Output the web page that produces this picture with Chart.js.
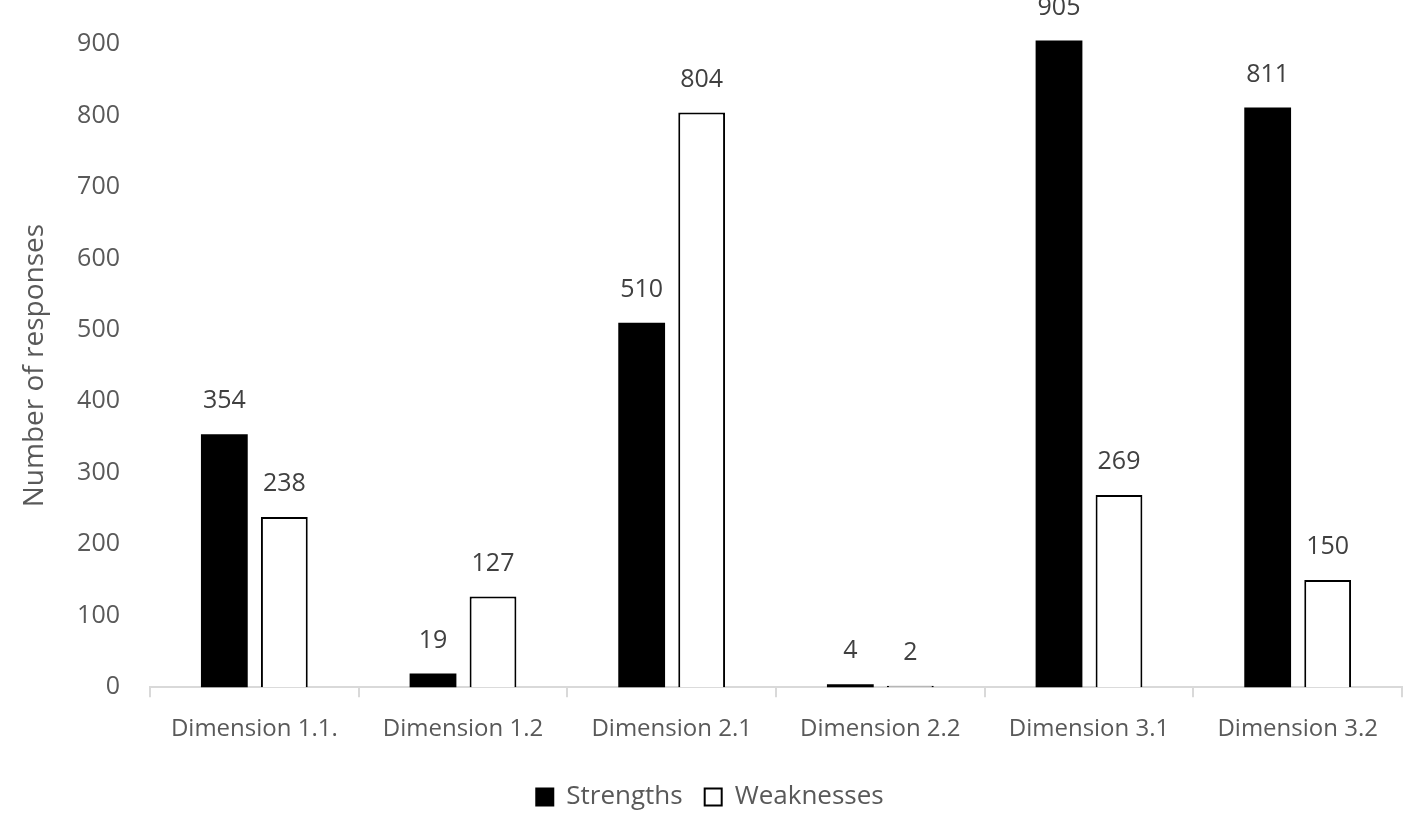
<!DOCTYPE html>
<html>
<head>
<meta charset="utf-8">
<script src="https://cdn.jsdelivr.net/npm/chart.js@4/dist/chart.umd.min.js"></script>
<style>
  html, body { margin: 0; padding: 0; background: #fff; }
  #wrap { width: 1417px; height: 828px; }
</style>
</head>
<body>
<div id="wrap"><canvas id="grafica"></canvas></div>
<script>
// Datos del grafico
const categorias = ["Dimension 1.1.", "Dimension 1.2", "Dimension 2.1", "Dimension 2.2", "Dimension 3.1", "Dimension 3.2"];
const fortalezas = [354, 19, 510, 4, 905, 811];
const debilidades = [238, 127, 804, 2, 269, 150];
const ticksY = [0, 100, 200, 300, 400, 500, 600, 700, 800, 900];

const fuente = "'Open Sans', 'Liberation Sans', sans-serif";
const gris = "#595959";

// Etiquetas de valor encima de cada barra
const etiquetas = {
    id: "etiquetas",
    afterDatasetsDraw(chart) {
        const ctx = chart.ctx;
        ctx.save();
        ctx.font = "25px " + fuente;
        ctx.fillStyle = "#404040";
        ctx.textAlign = "center";
        ctx.textBaseline = "middle";
        chart.data.datasets.forEach((ds, i) => {
            chart.getDatasetMeta(i).data.forEach((bar, j) => {
                ctx.fillText(ds.data[j], bar.x, bar.y - 33);
            });
        });
        ctx.restore();
    }
};

const ctx = document.getElementById("grafica").getContext("2d");
new Chart(ctx, {
    type: "bar",
    data: {
        labels: categorias,
        datasets: [{
            label: "Strengths",
            data: fortalezas,
            backgroundColor: "#000000",
            borderColor: "#000000",
            borderWidth: 0,
            clip: false
        }, {
            label: "Weaknesses",
            data: debilidades,
            backgroundColor: "#ffffff",
            borderColor: "#000000",
            borderWidth: 2,
            clip: false
        }]
    },
    options: {
        responsive: true,
        maintainAspectRatio: false,
        animation: false,
        categoryPercentage: 0.575,
        barPercentage: 0.78,
        layout: { padding: { top: 44, right: 15, left: 18, bottom: 8 } },
        scales: {
            y: {
                min: 0,
                max: 900,
                afterBuildTicks: axis => { axis.ticks = ticksY.map(v => ({ value: v })); },
                afterFit: axis => { axis.width = 132; },
                grid: { display: false },
                border: { display: false },
                ticks: { color: gris, font: { family: fuente, size: 25 }, padding: 22 },
                title: {
                    display: true,
                    text: "Number of responses",
                    color: gris,
                    font: { family: fuente, size: 28 },
                    padding: 0
                }
            },
            x: {
                grid: {
                    offset: true,
                    drawOnChartArea: false,
                    tickLength: 10,
                    color: "#d9d9d9",
                    lineWidth: 2
                },
                border: { color: "#d9d9d9", width: 2 },
                ticks: { color: gris, font: { family: fuente, size: 24 }, padding: 18 }
            }
        },
        plugins: {
            legend: {
                position: "bottom",
                labels: {
                    color: gris,
                    font: { family: fuente, size: 26 },
                    boxWidth: 17,
                    boxHeight: 17,
                    padding: 22,
                    generateLabels: chart => chart.data.datasets.map((ds, i) => ({
                        text: ds.label,
                        fillStyle: ds.backgroundColor,
                        strokeStyle: "#000000",
                        lineWidth: 2,
                        fontColor: gris,
                        datasetIndex: i
                    }))
                }
            },
            tooltip: { enabled: false }
        }
    },
    plugins: [etiquetas]
});
</script>
</body>
</html>
